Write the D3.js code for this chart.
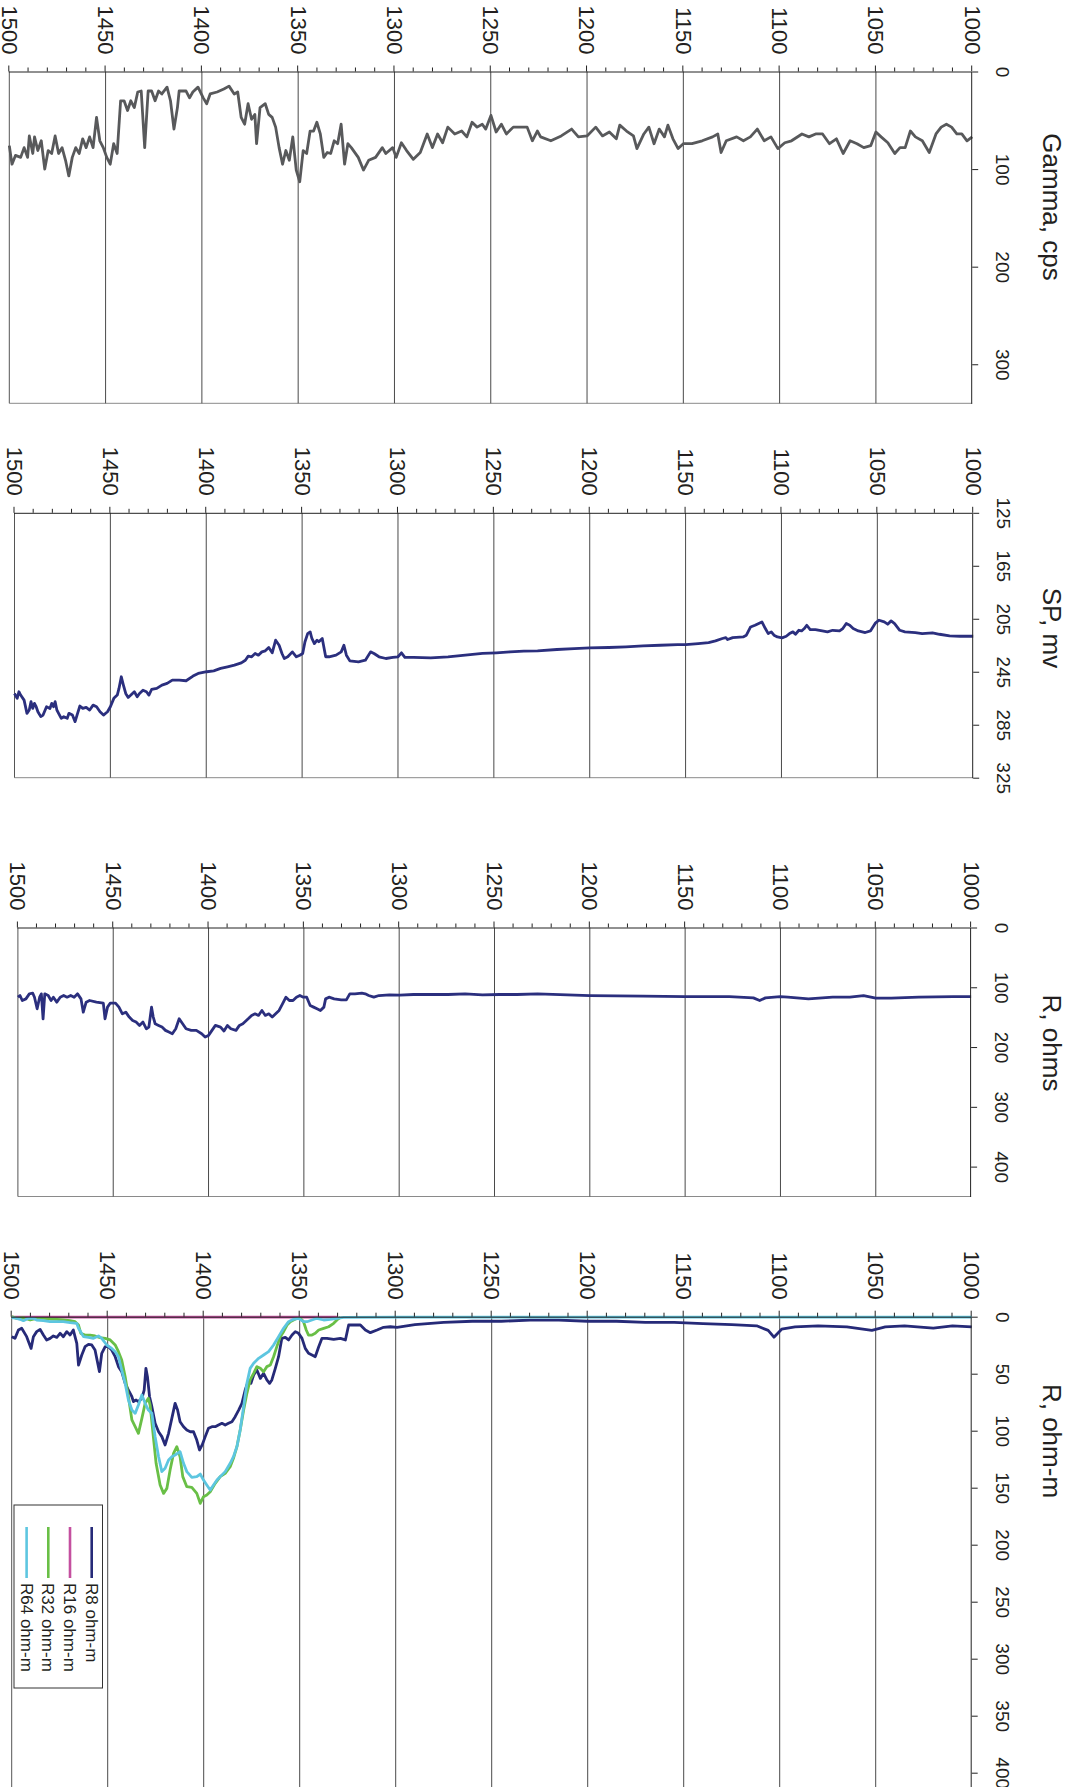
<!DOCTYPE html>
<html>
<head>
<meta charset="utf-8">
<script src="https://cdn.jsdelivr.net/npm/d3@7"></script>
<style>
  html, body { margin: 0; padding: 0; background: #fff; }
  svg { display: block; font-family: "Liberation Sans", Arial, Helvetica, sans-serif; }
</style>
</head>
<body>
<svg id="chart" width="1079" height="1787"></svg>
<script>
//////// Log data, [depth, value]

var gammaCps = [[1500,76],[1498.6,95],[1496.8,86],[1494.1,88],[1492.3,78],[1490.5,88],[1489.6,66],[1487.8,84],[1486.9,67],[1485.2,81],[1483.4,71],[1481.6,100],[1479.8,81],[1478,84],[1476.2,66],[1474.4,84],[1472.6,78],[1470.8,91],[1469.1,107],[1467.3,88],[1465.5,78],[1463.7,84],[1461.9,69],[1460.1,78],[1458.3,67],[1456.5,78],[1454.7,47],[1453,71],[1451.2,78],[1449.4,88],[1447.6,95],[1445.8,74],[1444,84],[1442.2,30],[1440.4,30],[1438.6,40],[1436.9,30],[1435.1,37],[1433.3,21],[1431.5,20],[1429.7,78],[1427.9,20],[1426.1,20],[1424.3,30],[1422.5,20],[1420.8,23],[1418.1,16],[1416.3,30],[1414.5,59],[1412.7,37],[1411.8,20],[1408.2,20],[1406.4,27],[1404.7,21],[1402,16],[1399.3,27],[1397.5,33],[1395.7,23],[1392.1,21],[1388.6,18],[1385.9,15],[1383.2,23],[1381.4,21],[1379.6,47],[1377.8,54],[1376,33],[1374.2,49],[1372.5,44],[1371.6,74],[1369.8,37],[1367.1,33],[1365.3,44],[1363.5,47],[1361.7,57],[1359.9,78],[1358.1,95],[1356.4,81],[1354.6,91],[1352.8,67],[1351,101],[1349.2,113],[1347.4,81],[1345.6,84],[1343.8,61],[1342,61],[1340.3,52],[1338.5,64],[1336.7,88],[1334.9,83],[1333.1,84],[1331.3,71],[1329.5,74],[1327.7,54],[1325.9,95],[1324.2,74],[1322.4,78],[1318.8,88],[1316.1,101],[1313.4,91],[1309.8,88],[1306.3,78],[1304.5,84],[1300.9,78],[1299.1,88],[1296.4,73],[1293.7,81],[1290.2,90],[1286.6,83],[1283,64],[1280.3,78],[1277.6,64],[1275,73],[1272.3,57],[1268.7,64],[1265.1,61],[1262.4,67],[1259.7,52],[1257.1,57],[1254.4,54],[1252.6,59],[1249.9,45],[1247.2,62],[1244.5,54],[1241.9,64],[1238.3,57],[1234.7,57],[1231.1,57],[1228.4,71],[1225.8,61],[1224.1,67],[1218.8,71],[1213.4,66],[1208,59],[1204.5,67],[1200,66],[1195.5,57],[1192,66],[1188.4,62],[1184.8,69],[1183,55],[1179.5,61],[1175.9,66],[1174.1,79],[1170.5,64],[1167.9,57],[1165.2,74],[1162.5,59],[1159.8,67],[1158,55],[1155.4,69],[1152.7,79],[1150,74],[1145.5,74],[1140.2,71],[1134.8,67],[1132.1,64],[1130.4,83],[1127.7,71],[1122.3,67],[1118.8,71],[1115.2,67],[1111.6,59],[1108,71],[1104.5,67],[1100.9,79],[1097.3,73],[1093.8,71],[1088.4,64],[1084.8,67],[1081.3,64],[1077.7,64],[1074.1,74],[1070.5,69],[1067,84],[1063.4,71],[1059.8,74],[1056.3,78],[1052.7,76],[1050,62],[1047.3,67],[1043.8,73],[1040.2,84],[1037.5,78],[1034.8,78],[1032.1,61],[1029.5,67],[1025.9,71],[1022.3,83],[1018.8,64],[1016.1,57],[1013.4,54],[1010.7,57],[1008,64],[1005.4,64],[1002.7,71],[1000,67]];

var spMv = [[1500,261.4],[1498.6,265.1],[1497.7,260.1],[1496.8,262.6],[1495,266.4],[1493.5,276.4],[1492.3,273.9],[1491.4,267.6],[1490.5,272.7],[1489.6,268.9],[1488.7,271.4],[1487.8,275.2],[1486.3,278.9],[1485.1,277.7],[1483.3,271.4],[1481.5,272.7],[1480.6,268.9],[1479.7,271.4],[1478.8,267.6],[1477.9,273.9],[1477,276.4],[1475.6,280.2],[1474.3,278.9],[1472.5,280.2],[1471.6,276.4],[1469.8,277.7],[1468.4,282.7],[1467.1,276.4],[1465.9,270.9],[1464.4,272.7],[1462.6,271.9],[1460.8,273.9],[1459,270.2],[1457.2,271.4],[1455.4,275.2],[1453.6,277.7],[1451.5,275.2],[1450,271.4],[1448.2,265.1],[1446.4,262.6],[1445.5,257.6],[1444.3,248.8],[1443.2,255.1],[1442,261.4],[1440.7,264.4],[1439.3,262.6],[1437.5,260.1],[1436,263.9],[1434.8,261.4],[1433,258.9],[1431.2,260.1],[1429.9,262.6],[1428.5,258.4],[1425.8,257.6],[1423.1,255.1],[1420.4,253.8],[1417.7,251.3],[1414.1,251.3],[1410.5,251.8],[1406.9,248.3],[1404.2,246.3],[1399.7,245],[1396.1,244.3],[1392.5,242.5],[1388.9,241.3],[1385.3,240],[1381.7,238.3],[1379.6,236.3],[1378.1,233.2],[1376.3,233.7],[1374.5,231.2],[1372.8,232.5],[1371,230],[1369.2,229.2],[1367.4,226.7],[1365.6,230.7],[1363.8,221.2],[1362,225],[1360.5,231.2],[1359.3,235],[1357.5,233.7],[1355.1,230],[1353,233.7],[1351.2,232.5],[1349.7,231.2],[1348.5,222.4],[1347.1,216.2],[1345.8,214.9],[1344.9,219.9],[1343.6,223.7],[1342.2,221.2],[1341.3,222.4],[1339.5,219.9],[1337.7,233.7],[1335.9,233.7],[1332.3,232.5],[1329.6,230],[1328.2,225],[1326.9,232.5],[1325.1,236.8],[1320.6,237.5],[1317,236.3],[1314.3,230],[1312.5,231.2],[1309.9,233.7],[1306.3,235],[1302.7,234.2],[1300,233.7],[1298.2,230.7],[1296.4,234.2],[1291.9,234.2],[1282.9,234.5],[1273.9,233.7],[1264.9,232.5],[1255.9,231.2],[1248.7,230.7],[1241.6,230],[1234.4,229.5],[1227.2,229.2],[1217.1,228.2],[1208.1,227.5],[1200,227],[1190.1,226.7],[1181.1,226.2],[1172.2,225.5],[1163.2,225],[1154.2,224.5],[1149.9,224.5],[1143.4,223.7],[1138,223],[1134.4,221.7],[1130.8,219.9],[1129,219.2],[1128.1,220.7],[1125.4,219.2],[1120,218.7],[1118.3,217.4],[1116.1,211.2],[1113.8,209.9],[1110.2,207.4],[1108.4,212.4],[1106.9,216.2],[1105.3,214.9],[1103.9,217.4],[1102.1,218.7],[1099.7,219.4],[1097.5,218.2],[1095.8,216.2],[1094,214.9],[1092.7,216.7],[1090.9,213.7],[1089.5,214.2],[1088.1,212.4],[1086.8,209.9],[1085,213.2],[1082.3,213.2],[1078.7,214.2],[1076,214.9],[1073.3,213.7],[1069.7,214.2],[1068,212.4],[1066.2,208.6],[1064.4,209.9],[1062.6,212.4],[1059.9,214.2],[1056.3,215.4],[1053.6,214.2],[1050.9,208.1],[1049.1,206.1],[1046.4,207.4],[1044.6,209.1],[1042.8,206.6],[1041,208.6],[1038.3,213.7],[1035.6,214.9],[1030.2,215.4],[1026.6,216.2],[1021.2,215.7],[1017.6,216.7],[1012.3,217.9],[1006.9,218.2],[1000,218.2]];

var rOhms = [[1500,116.6],[1498.9,113.8],[1497.7,122.1],[1495.8,119.4],[1494,111],[1492.2,109.9],[1491.3,116.6],[1489.9,136],[1488.6,116.6],[1487.7,111],[1486.8,152.7],[1485.9,111],[1484.1,113.8],[1482.6,122.1],[1481.4,116.6],[1479.6,124.9],[1477.8,116.6],[1476,113.8],[1474.2,116.6],[1472.3,113.8],[1470.5,116.6],[1468.7,111],[1466.9,119.4],[1465.7,141.6],[1464.2,124.9],[1462.4,122.1],[1458.8,124.9],[1455.2,126.6],[1454.3,152.7],[1453,133.2],[1451.6,126.6],[1448.8,126.6],[1447,133.2],[1445.2,144.4],[1443.4,141.6],[1441.6,149.9],[1439.8,155.5],[1438,158.2],[1436.2,163.8],[1434.4,158.2],[1432.6,169.4],[1431.3,166.6],[1429.9,133.2],[1429,149.9],[1428,161],[1426.2,163.8],[1424.4,166.6],[1422.6,172.1],[1420.8,174.9],[1419,177.7],[1417.2,169.4],[1415.4,152.7],[1413.6,161],[1411.8,169.4],[1409.1,172.1],[1406.4,172.1],[1403.6,177.7],[1401.8,183.2],[1400,180.5],[1398.2,172.1],[1396.4,163.8],[1393.7,166.6],[1391.9,173.2],[1390.1,163.8],[1388.3,169.4],[1385.6,172.1],[1383.8,163.8],[1382,161],[1379.2,152.7],[1377.4,147.1],[1375.6,144.4],[1373.8,147.1],[1372,138.8],[1370.2,147.1],[1368.4,144.4],[1366.6,149.9],[1364.8,144.4],[1363,138.8],[1361.2,127.7],[1359.4,116.6],[1357.6,122.1],[1355.7,122.1],[1353.9,116.6],[1352.1,113.8],[1350.3,116.6],[1348.5,116.6],[1346.7,130.5],[1344.9,133.2],[1343.1,136],[1341.3,138.8],[1339.5,133.2],[1338.6,119.4],[1336.8,116.6],[1334.1,119.4],[1330.4,121],[1327.7,121],[1325.9,111],[1323.2,111],[1319.6,109.9],[1317.8,111],[1316,113.8],[1313.3,116.6],[1310.6,113.8],[1305.1,112.7],[1299.7,113.2],[1292.5,112.1],[1283.4,112.1],[1274.4,112.1],[1265.4,111],[1256.3,112.7],[1247.3,112.1],[1238.2,112.1],[1227.4,111],[1200,113.8],[1172,114.9],[1150.1,115.5],[1126.8,115.5],[1114.2,117.7],[1110.9,122.1],[1107.9,117.7],[1100.1,115.5],[1096.1,116.6],[1085.3,119.4],[1072.6,116.6],[1063.6,116.6],[1056.4,113.8],[1050,118.3],[1041.9,118.3],[1027.5,116.6],[1009.4,115.5],[1000,115.5]];

var r8 = [[1500,17.5],[1498.3,19],[1496.5,11.7],[1494.8,10.2],[1492.2,17.5],[1489.9,27.8],[1488.7,17.5],[1487,13.1],[1485.2,11.1],[1483.5,16.1],[1481.8,20.4],[1480,19],[1478.3,16.9],[1476.5,18.1],[1474.8,14.6],[1473.1,17.5],[1471.3,13.1],[1469.6,16.1],[1467.9,11.7],[1466.1,23.4],[1465.2,42.4],[1463.5,33.6],[1461.8,26.3],[1460,24.3],[1458.3,24.8],[1456.6,29.2],[1454.3,48.2],[1453.1,32.1],[1451.3,26.3],[1449.6,26.3],[1447.9,29.2],[1446.1,35.1],[1444.4,43.8],[1442.7,48.2],[1440.9,58.5],[1439.2,64.3],[1437.4,70.2],[1436.6,74.5],[1435.2,73.1],[1434,74.5],[1432.2,71.6],[1431,64.3],[1430.1,45.3],[1429.3,52.6],[1428.2,70.2],[1427,78.9],[1425.3,93.5],[1423.5,100.9],[1421.8,105.2],[1420.1,112.5],[1418.3,102.3],[1416.6,89.2],[1414.9,76],[1413.6,81.9],[1412.3,92.1],[1410.5,96.5],[1408.8,99.4],[1407,100.9],[1405.3,100.9],[1403.6,108.2],[1402.2,116.9],[1400.8,112.5],[1399.2,105.2],[1397.5,97.9],[1395.7,96.5],[1394,96.5],[1392.3,95],[1390.5,93.5],[1388.8,95],[1387.1,93.5],[1385.3,92.1],[1383.6,87.7],[1381.8,81.9],[1380.1,76],[1378.4,64.3],[1376.6,55.5],[1375.4,58.5],[1374,51.1],[1372.3,46.8],[1370.5,54.1],[1368.8,49.7],[1367.1,55.5],[1365.7,58.5],[1364.5,55.5],[1362.7,45.3],[1361,35.1],[1359.3,19],[1357.5,18.1],[1355.8,20.4],[1354,16.1],[1352.3,13.1],[1350.6,14.6],[1348.8,19],[1347.1,27.8],[1345.4,32.1],[1343.6,33.6],[1341.9,35.1],[1340.1,26.3],[1338.4,19],[1335.8,19],[1332.3,19.9],[1328.8,19],[1326.2,20.4],[1324.5,7.3],[1321.9,7.3],[1318.4,7.3],[1315.8,11.7],[1313.2,14],[1309.7,11.7],[1306.3,9.3],[1302.8,8.8],[1299.3,9.3],[1290,7],[1275,5],[1260,4],[1245,4],[1230,3],[1215,3],[1200,4],[1185,4],[1170,5],[1155,5],[1140,6],[1125,7],[1112,8],[1106,12],[1103,18],[1099,11],[1092,9],[1080,8],[1065,9],[1052,12],[1045,9],[1035,8],[1020,10],[1010,8],[1000,9]];

var r16 = [[1500,0.3],[1450,0.3],[1400,0.3],[1350,0.3],[1330,0.3]];

var r32 = [[1500,0],[1497.4,1.4],[1493.9,0.9],[1490.4,2.9],[1487,1.4],[1483.5,1.4],[1480,2],[1476.5,2.3],[1473.1,2.9],[1469.6,3.5],[1467,4.4],[1465.2,7.3],[1464,14.6],[1461.8,16.1],[1459.2,16.1],[1456.6,16.9],[1454,18.4],[1451.3,19],[1448.7,20.4],[1446.1,24.8],[1444.4,30.7],[1442.7,38],[1440.9,52.6],[1439.2,70.2],[1437.4,90.6],[1435.7,96.5],[1434,102.3],[1432.2,89.2],[1430.5,76],[1428.8,71.6],[1427.9,77.5],[1426.5,100.9],[1424.8,128.6],[1422.7,147.6],[1420.9,155],[1419.2,150.6],[1417.5,134.5],[1415.7,119.9],[1414,114],[1412.3,122.8],[1410.9,140.3],[1408.8,149.1],[1406.2,149.7],[1403.6,155],[1401.8,163.7],[1400.1,157.9],[1398.4,156.4],[1396.6,153.5],[1394,146.2],[1391.4,140.3],[1388.8,137.4],[1386.2,131.6],[1384.5,124.2],[1382.7,114],[1381,99.4],[1379.2,81.9],[1377.5,67.2],[1375.8,55.5],[1374,49.7],[1372.3,43.8],[1370.5,45.3],[1368.8,48.2],[1367.1,43.8],[1365.3,42.4],[1363.6,35.1],[1361.9,26.3],[1360.1,17.5],[1358.4,13.1],[1356.6,7.3],[1354.9,4.4],[1353.2,2.9],[1351.4,1.4],[1349.7,1.4],[1348,4.4],[1346.6,11.7],[1345.4,16.1],[1343.6,16.1],[1341.9,14.6],[1340.1,11.7],[1337.5,10.2],[1334.9,8.8],[1332.3,5.8],[1330.6,2.9],[1328.8,0.6]];

var r64 = [[1500,0.9],[1497.4,1.4],[1495.7,2.3],[1493.9,3.5],[1491.3,1.4],[1488.7,1.4],[1487,2.9],[1483.5,3.5],[1480,4.4],[1476.5,4.4],[1473.1,4.4],[1469.6,5.2],[1466.1,5.8],[1465.2,10.2],[1462.6,17.5],[1460,18.1],[1457.4,19],[1454.8,16.9],[1453.1,19],[1450.5,24.8],[1447.9,27.8],[1446.1,30.7],[1444.4,35.1],[1442.7,46.8],[1440.9,58.5],[1439.2,73.1],[1437.4,81.9],[1435.7,84.8],[1434,77.5],[1432.2,68.7],[1430.5,76],[1428.8,81.9],[1427,84.8],[1425.3,105.2],[1423.5,122.8],[1421.8,135.9],[1420.1,133],[1418.3,125.7],[1416.6,122.8],[1414.9,121.3],[1412.3,118.4],[1410.5,128.6],[1408.8,135.9],[1406.2,140.9],[1403.6,140.3],[1401.8,138],[1400.1,143.3],[1398.4,147.6],[1396.6,152],[1394.9,147.6],[1393.1,143.3],[1391.4,140.3],[1388.8,135.9],[1386.2,128.6],[1384.5,122.8],[1382.7,114],[1381,99.4],[1379.2,78.9],[1377.5,58.5],[1375.8,45.3],[1374,40.9],[1371.4,36.5],[1368.8,33.6],[1366.2,30.7],[1363.6,24.8],[1361,17.5],[1358.4,10.2],[1355.8,4.4],[1353.2,2.3],[1350.6,1.4],[1348,4.4],[1346.2,4.4],[1343.6,2.9],[1341,1.4],[1337.5,2.9],[1334.1,2.3],[1330.6,1.4],[1327.1,0.6],[1300,0.3],[1200,0.3],[1100,0.3],[1000,0.3]];

var depthTicks = [1000, 1050, 1100, 1150, 1200, 1250, 1300, 1350, 1400, 1450, 1500];
var gammaTicks = [0, 100, 200, 300];
var spTicks = [125, 165, 205, 245, 285, 325];
var rOhmsTicks = [0, 100, 200, 300, 400];
var rOhmmTicks = [0, 50, 100, 150, 200, 250, 300, 350, 400];

var resSeries = [
  { name: "R8 ohm-m", data: r8, color: "#262a78" },
  { name: "R16 ohm-m", data: r16, color: "#c44f9f" },
  { name: "R32 ohm-m", data: r32, color: "#69bf46" },
  { name: "R64 ohm-m", data: r64, color: "#5dc6e0" }
];

//////// Tracks (drawn in log orientation, whole sheet is turned 90deg)
var tracks = [
  { title: "Gamma, cps", titleX: 207, domain: [0, 340], ticks: gammaTicks,
    left: 71.5, right: 403.3, top: 106.8, bottom: 1069.7,
    series: [{ data: gammaCps, color: "#58595b" }] },
  { title: "SP, mv", titleX: 628, domain: [125, 325], ticks: spTicks,
    left: 512.8, right: 777.7, top: 105.8, bottom: 1064.5,
    series: [{ data: spMv, color: "#2b2f7e" }] },
  { title: "R, ohms", titleX: 1043, domain: [0, 450], ticks: rOhmsTicks,
    left: 927.5, right: 1196.5, top: 107.9, bottom: 1061.1,
    series: [{ data: rOhms, color: "#2b2f7e" }] },
  { title: "R, ohm-m", titleX: 1441, domain: [0, 415], ticks: rOhmmTicks,
    left: 1316.7, right: 1789.8, top: 107.3, bottom: 1067.3,
    series: resSeries, legend: true }
];

var svg = d3.select("#chart");
svg.append("rect").attr("width", 1079).attr("height", 1787).attr("fill", "#fff");

var sheet = svg.append("g").attr("transform", "translate(1079,0) rotate(90)");

tracks.forEach(function(t) {
  var y = d3.scaleLinear().domain([1000, 1500]).range([t.top, t.bottom]);
  var x = d3.scaleLinear().domain(t.domain).range([t.left, t.right]);
  var g = sheet.append("g");

  // frame, far side light
  g.append("line")
    .attr("x1", t.right).attr("x2", t.right).attr("y1", t.top).attr("y2", t.bottom)
    .attr("stroke", "#8a8a8a").attr("stroke-width", 1);

  // depth grid
  g.append("g").selectAll("line")
    .data(depthTicks.filter(d => d > 1000))
    .join("line")
    .attr("x1", t.left).attr("x2", t.right)
    .attr("y1", d => y(d)).attr("y2", d => y(d))
    .attr("stroke", d => d === 1500 ? "#555" : "#4a4a4a")
    .attr("stroke-width", 1);

  var line = d3.line().x(d => x(d[1])).y(d => y(d[0]));

  t.series.forEach(function(s) {
    g.append("path")
      .datum(s.data)
      .attr("fill", "none")
      .attr("stroke", s.color)
      .attr("stroke-width", 2.8)
      .attr("stroke-linejoin", "round")
      .attr("d", line);
  });

  // depth axis
  var minor = d3.range(1000, 1501, 10).filter(d => d % 50 !== 0);
  g.append("g")
    .attr("transform", "translate(" + t.left + ",0)")
    .call(d3.axisLeft(y).tickValues(minor).tickSize(4).tickFormat("").tickSizeOuter(0))
    .call(a => a.select(".domain").remove())
    .call(a => a.selectAll("line").attr("stroke", "#222"));

  g.append("g")
    .attr("transform", "translate(" + t.left + ",0)")
    .call(d3.axisLeft(y).tickValues(depthTicks).tickFormat(d3.format("d"))
      .tickSize(6).tickPadding(11).tickSizeOuter(0))
    .call(a => a.select(".domain").attr("stroke", "#222"))
    .call(a => a.selectAll("line").attr("stroke", "#222"))
    .call(a => a.selectAll("text")
      .attr("fill", "#231f20")
      .style("font-family", "'Liberation Sans', Arial, sans-serif")
      .style("font-size", "22px"));

  // value axis on top
  g.append("g")
    .attr("transform", "translate(0," + t.top + ")")
    .call(d3.axisTop(x).tickValues(t.ticks).tickFormat(d3.format("d"))
      .tickSize(6).tickPadding(18).tickSizeOuter(0))
    .call(a => a.select(".domain").attr("stroke", "#222"))
    .call(a => a.selectAll("line").attr("stroke", "#222"))
    .call(a => a.selectAll("text")
      .attr("fill", "#231f20")
      .style("font-family", "'Liberation Sans', Arial, sans-serif")
      .style("font-size", "19px"));

  g.append("text")
    .attr("x", t.titleX).attr("y", 36)
    .attr("text-anchor", "middle")
    .attr("fill", "#231f20")
    .style("font-size", "26px")
    .text(t.title);

  if (t.legend) {
    var lg = g.append("g");
    lg.append("rect")
      .attr("x", 1505).attr("y", 976.5)
      .attr("width", 183).attr("height", 88.5)
      .attr("fill", "#fff").attr("stroke", "#333").attr("stroke-width", 1);
    var rows = lg.selectAll("g.row")
      .data(t.series)
      .join("g")
      .attr("class", "row")
      .attr("transform", (d, i) => "translate(0," + (987.3 + i * 21.7) + ")");
    rows.append("line")
      .attr("x1", 1527).attr("x2", 1578)
      .attr("stroke", d => d.color).attr("stroke-width", 2.6);
    rows.append("text")
      .attr("x", 1583).attr("dy", "0.35em")
      .attr("fill", "#231f20")
      .style("font-size", "17px")
      .text(d => d.name);
  }
});
</script>
</body>
</html>
